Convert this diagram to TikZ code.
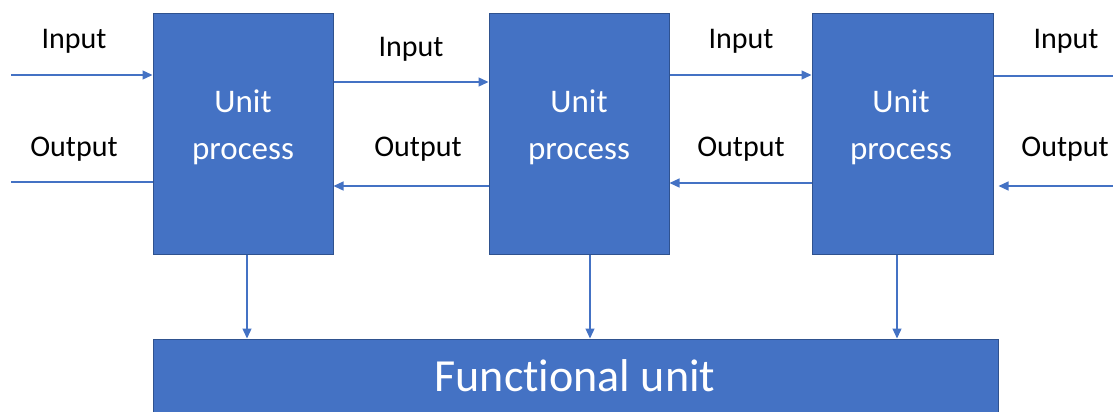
\documentclass[tikz,border=0pt]{standalone}
\usepackage{fontspec}
\setmainfont[Ligatures={NoCommon}]{Carlito}
\usetikzlibrary{arrows.meta}
\definecolor{boxfill}{HTML}{4472C4}
\definecolor{boxline}{HTML}{2F528F}
\begin{document}
\begin{tikzpicture}[x=1pt,y=-1pt,
  unitbox/.style={draw=boxline,fill=boxfill,line width=1pt,minimum width=180pt,minimum height=240pt,inner sep=0pt},
  funcbox/.style={draw=boxline,fill=boxfill,line width=1pt,minimum width=845pt,minimum height=80pt,inner sep=0pt},
  flow/.style={draw=boxfill,line width=1.3pt},
  arr/.style={flow,-{Triangle[length=10pt,width=9pt]}},
  lbl/.style={font=\fontsize{30}{36}\selectfont,inner sep=0pt},
  boxtxt/.style={font=\fontsize{33}{47}\selectfont,text=white,align=center,inner sep=0pt},
]
\useasboundingbox (0,0) rectangle (1113,412);

% unit processes and the functional unit
\node[unitbox] (b1) at (243,134) {};
\node[unitbox] (b2) at (579,134) {};
\node[unitbox,minimum width=181pt] (b3) at (902.5,134) {};
\node[funcbox] (fu) at (575.5,379) {};

\node[boxtxt] (t1) at (243,127) {Unit\\process};
\node[boxtxt] (t2) at (579,127) {Unit\\process};
\node[boxtxt] (t3) at (901,127) {Unit\\process};
\node[boxtxt,font=\fontsize{46}{55}\selectfont] (tf) at (575,376) {Functional unit};

% free ends at the margins
\coordinate (inL) at (11,75);
\coordinate (outL) at (11,182);
\coordinate (inR) at (1113,76);
\coordinate (outR) at (1113,186);

% inputs and outputs
\draw[arr] (inL) -- (b1.west |- inL);
\draw[flow] (b1.west |- outL) -- (outL);
\draw[arr] (b1.east |- 0,82) -- (b2.west |- 0,82);
\draw[arr] (b2.west |- 0,186) -- (b1.east |- 0,186);
\draw[arr] (b2.east |- 0,75) -- (b3.west |- 0,75);
\draw[arr] (b3.west |- 0,183) -- (b2.east |- 0,183);
\draw[flow] (b3.east |- inR) -- (inR);
\draw[arr] (outR) -- ([xshift=5pt]b3.east |- outR);

% contributions to the functional unit
\draw[arr] (b1.south -| 247,0) -- (fu.north -| 247,0);
\draw[arr] (b2.south -| 590,0) -- (fu.north -| 590,0);
\draw[arr] (b3.south -| 897,0) -- (fu.north -| 897,0);

% flow labels
\node[lbl] (li1) at (74,41.5) {Input};
\node[lbl] (lo1) at (74,149.5) {Output};
\node[lbl] (li2) at (411,49.5) {Input};
\node[lbl] (lo2) at (418,149.5) {Output};
\node[lbl] (li3) at (741,41.5) {Input};
\node[lbl] (lo3) at (741,149.5) {Output};
\node[lbl] (li4) at (1066,41.5) {Input};
\node[lbl] (lo4) at (1065,149.5) {Output};
\end{tikzpicture}
\end{document}
